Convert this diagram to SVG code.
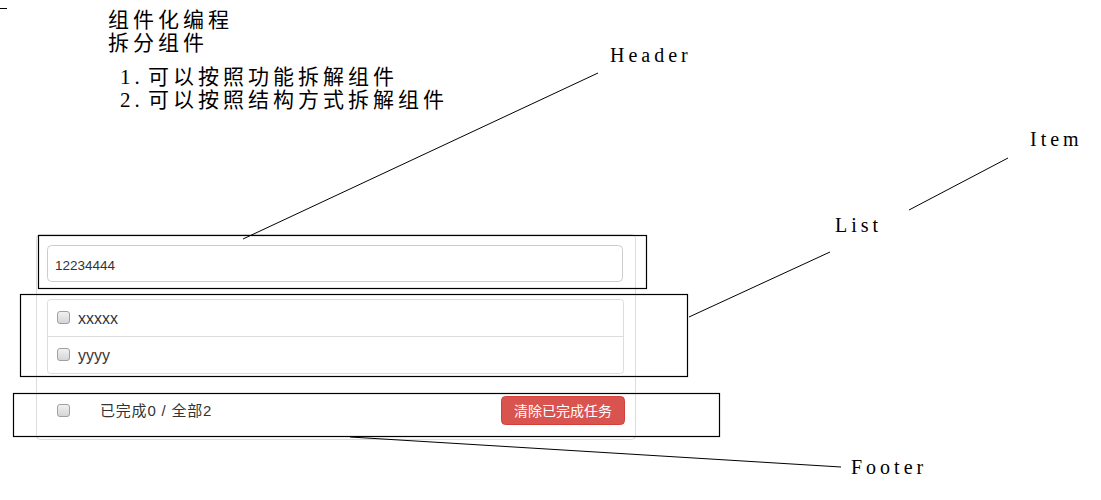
<svg xmlns="http://www.w3.org/2000/svg" width="1101" height="500" viewBox="0 0 1101 500">
<style>
.title{font-family:"Liberation Serif","Noto Sans CJK SC",serif;font-size:21px;fill:#000;letter-spacing:4px}
.lbl{font-family:"Liberation Serif","Noto Sans CJK SC",serif;font-size:20px;fill:#000;letter-spacing:4px}
.ui{font-family:"Liberation Sans","Noto Sans CJK SC",sans-serif;fill:#333}
.box{fill:none;stroke:#000;stroke-width:1.2}
.panel{fill:#fff;stroke:#ddd;stroke-width:1}
.cb{fill:url(#cbg);stroke:#a0a0a0;stroke-width:1}
.conn line{stroke:#000;stroke-width:1}
</style>
<defs>
<linearGradient id="cbg" x1="0" y1="0" x2="0" y2="1">
<stop offset="0" stop-color="#f2f2f2"/>
<stop offset="1" stop-color="#d4d4d4"/>
</linearGradient>
</defs>
<rect width="1101" height="500" fill="#fff"/>
<line x1="0" y1="8.5" x2="7" y2="8.5" stroke="#000" stroke-width="1"/>
<g id="notes">
<text class="title" x="108" y="27">组件化编程</text>
<text class="title" x="108" y="50">拆分组件</text>
<text class="title" x="120" y="84">1.<tspan x="148">可以按照功能拆解组件</tspan></text>
<text class="title" x="120" y="107">2.<tspan x="148">可以按照结构方式拆解组件</tspan></text>
</g>
<g id="app">
<rect class="panel" x="36.5" y="234.5" width="599" height="205" rx="4"/>
</g>
<g id="header">
<rect x="47.5" y="245.5" width="575" height="36" rx="4" fill="#fff" stroke="#ccc"/>
<text class="ui" x="55" y="270" font-size="13.5" fill="#555">12234444</text>
<rect class="box" x="38.5" y="235.5" width="608" height="53"/>
</g>
<g id="list">
<rect x="47.5" y="299.5" width="576" height="74" rx="3" fill="#fff" stroke="#ddd"/>
<line x1="48" y1="336.5" x2="623" y2="336.5" stroke="#ddd"/>
<g id="item1">
<rect class="cb" x="57.5" y="311.5" width="12" height="12" rx="2.5"/>
<text class="ui" x="78" y="324" font-size="16">xxxxx</text>
</g>
<g id="item2">
<rect class="cb" x="57.5" y="348.5" width="12" height="12" rx="2.5"/>
<text class="ui" x="78" y="361" font-size="16">yyyy</text>
</g>
<rect class="box" x="20.5" y="294.5" width="667" height="82"/>
</g>
<g id="footer">
<rect class="cb" x="57.5" y="404.5" width="12" height="12" rx="2.5"/>
<text class="ui" x="100" y="416" font-size="15" letter-spacing="0.8">已完成0 / 全部2</text>
<rect x="501.5" y="396.5" width="123" height="28" rx="4" fill="#d9534f" stroke="#d43f3a"/>
<text class="ui" x="563" y="416" font-size="14" text-anchor="middle" style="fill:#fff">清除已完成任务</text>
<rect class="box" x="13.5" y="393.5" width="706" height="43"/>
</g>
<g class="conn" id="connectors">
<line x1="243" y1="239" x2="598" y2="73"/>
<line x1="689" y1="317" x2="830" y2="252"/>
<line x1="909" y1="210" x2="1008" y2="158"/>
<line x1="350" y1="437" x2="841" y2="467"/>
</g>
<g id="labels">
<text class="lbl" x="610" y="62">Header</text>
<text class="lbl" x="1030" y="146">Item</text>
<text class="lbl" x="835" y="232">List</text>
<text class="lbl" x="851" y="474">Footer</text>
</g>
</svg>
